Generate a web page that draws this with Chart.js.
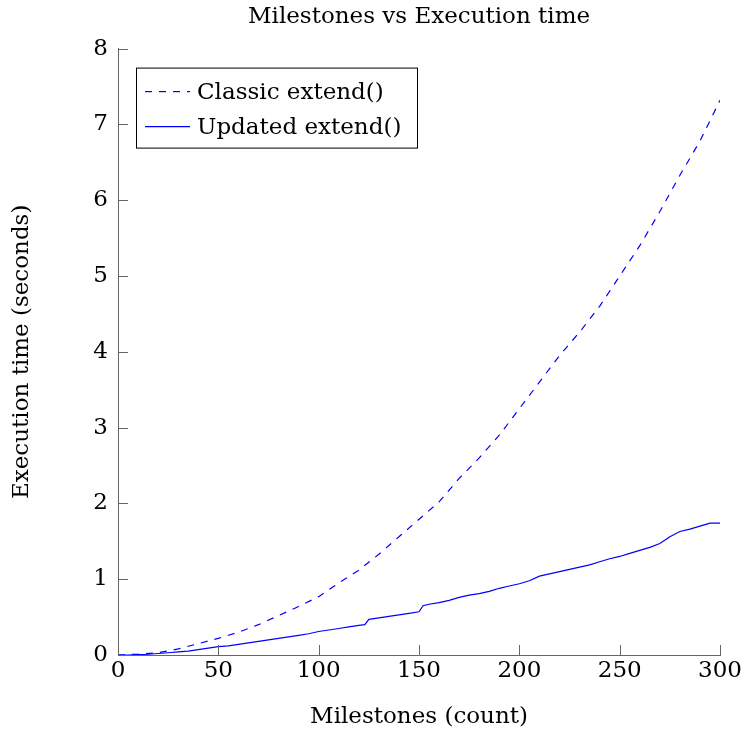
<!DOCTYPE html>
<html>
<head>
<meta charset="utf-8">
<script src="https://cdn.jsdelivr.net/npm/chart.js@4/dist/chart.umd.min.js"></script>
<style>
  html, body { margin: 0; padding: 0; background: #fff; }
  #wrap { width: 744px; height: 732px; }
</style>
</head>
<body>
<div id="wrap"><canvas id="chart" width="744" height="732"></canvas></div>
<script>
// Dados
const classicX = [0, 10, 20, 30, 40, 50, 60, 70, 80, 90, 100, 110, 120, 130, 140, 150,
  160, 170, 180, 190, 200, 210, 220, 230, 240, 250, 260, 270, 280, 290, 300];
const classicY = [0, 0.01, 0.03, 0.08, 0.15, 0.22, 0.30, 0.40, 0.52, 0.64, 0.77, 0.95, 1.12, 1.33, 1.56, 1.79,
  2.02, 2.33, 2.60, 2.90, 3.25, 3.60, 3.95, 4.26, 4.60, 5.00, 5.40, 5.85, 6.33, 6.78, 7.32];

const updatedX = [0, 5, 10, 15, 20, 25, 30, 35, 40, 45, 50, 55, 60, 65, 70, 75, 80, 85, 90, 95,
  100, 105, 110, 115, 120, 123, 125, 130, 135, 140, 145, 150, 152, 155, 160, 165, 170, 175, 180, 185, 190, 195,
  200, 205, 210, 215, 220, 225, 230, 235, 240, 245, 250, 255, 260, 265, 270, 275, 280, 285, 290, 295, 300];
const updatedY = [0, 0, 0.005, 0.01, 0.02, 0.03, 0.04, 0.05, 0.07, 0.09, 0.11, 0.12, 0.14, 0.16, 0.18, 0.20, 0.22, 0.24, 0.26, 0.28,
  0.31, 0.33, 0.35, 0.37, 0.39, 0.40, 0.47, 0.49, 0.51, 0.53, 0.55, 0.57, 0.65, 0.67, 0.69, 0.72, 0.76, 0.79, 0.81, 0.84, 0.88, 0.91,
  0.94, 0.98, 1.04, 1.07, 1.10, 1.13, 1.16, 1.19, 1.23, 1.27, 1.30, 1.34, 1.38, 1.42, 1.47, 1.56, 1.63, 1.66, 1.70, 1.74, 1.74];

const xTicks = [0, 50, 100, 150, 200, 250, 300];
const yTicks = [0, 1, 2, 3, 4, 5, 6, 7, 8];

const fontFamily = '"DejaVu Serif", serif';
const fontSize = 23;
const axisColor = '#666';

// Ticks para dentro, como no pgfplots
const innerTicks = {
  id: 'innerTicks',
  afterDraw(chart) {
    const ctx = chart.ctx;
    const x = chart.scales.x, y = chart.scales.y;
    const area = chart.chartArea;
    ctx.save();
    ctx.strokeStyle = axisColor;
    ctx.lineWidth = 1;
    ctx.beginPath();
    xTicks.forEach(v => {
      const px = Math.round(x.getPixelForValue(v)) + 0.5;
      ctx.moveTo(px, area.bottom);
      ctx.lineTo(px, area.bottom - 10);
    });
    yTicks.forEach(v => {
      const py = Math.round(y.getPixelForValue(v)) + 0.5;
      ctx.moveTo(area.left, py);
      ctx.lineTo(area.left + 10, py);
    });
    ctx.stroke();
    ctx.restore();
  }
};

// Legenda dentro da área do gráfico
const boxLegend = {
  id: 'boxLegend',
  afterDraw(chart) {
    const ctx = chart.ctx;
    const area = chart.chartArea;
    const left = area.left + 18, top = area.top + 19;
    const w = 281, h = 80;
    ctx.save();
    ctx.fillStyle = '#fff';
    ctx.fillRect(left, top, w, h);
    ctx.strokeStyle = '#000';
    ctx.lineWidth = 1;
    ctx.strokeRect(left + 0.5, top + 0.5, w, h);
    ctx.font = fontSize + 'px ' + fontFamily;
    ctx.textBaseline = 'middle';
    chart.data.datasets.forEach((ds, i) => {
      const cy = top + 24 + i * 35;
      ctx.strokeStyle = ds.borderColor;
      ctx.lineWidth = ds.borderWidth;
      ctx.setLineDash(ds.borderDash || []);
      ctx.beginPath();
      ctx.moveTo(left + 9, cy);
      ctx.lineTo(left + 54, cy);
      ctx.stroke();
      ctx.setLineDash([]);
      ctx.fillStyle = '#000';
      ctx.fillText(ds.label, left + 61, cy + 1);
    });
    ctx.restore();
  }
};

new Chart(document.getElementById('chart'), {
  type: 'line',
  data: {
    datasets: [
      {
        label: 'Classic extend()',
        data: classicX.map((x, i) => ({ x: x, y: classicY[i] })),
        borderColor: '#0000ff',
        borderWidth: 1.2,
        borderDash: [7, 7],
        pointRadius: 0,
        tension: 0
      },
      {
        label: 'Updated extend()',
        data: updatedX.map((x, i) => ({ x: x, y: updatedY[i] })),
        borderColor: '#0000ff',
        borderWidth: 1.2,
        pointRadius: 0,
        tension: 0
      }
    ]
  },
  options: {
    responsive: false,
    animation: false,
    layout: { padding: { left: 0, right: 23, top: 0, bottom: 0 } },
    plugins: {
      legend: { display: false },
      tooltip: { enabled: false },
      title: {
        display: true,
        fullSize: false,
        text: 'Milestones vs Execution time',
        color: '#000',
        font: { family: fontFamily, size: fontSize, weight: 'normal', lineHeight: 1.2 },
        padding: { top: 3, bottom: 18 }
      }
    },
    scales: {
      x: {
        type: 'linear',
        min: 0,
        max: 300,
        afterBuildTicks: s => { s.ticks = xTicks.map(v => ({ value: v })); },
        afterFit: s => { s.height = 77; },
        ticks: { color: '#000', font: { family: fontFamily, size: fontSize }, padding: 2 },
        grid: { drawOnChartArea: false, drawTicks: false },
        border: { color: axisColor, width: 1 },
        title: {
          display: true,
          text: 'Milestones (count)',
          color: '#000',
          font: { family: fontFamily, size: fontSize },
          padding: { top: 0, bottom: 1 }
        }
      },
      y: {
        type: 'linear',
        min: 0,
        max: 8,
        afterBuildTicks: s => { s.ticks = yTicks.map(v => ({ value: v })); },
        afterFit: s => { s.width = 118; },
        ticks: { color: '#000', font: { family: fontFamily, size: fontSize }, padding: 10 },
        grid: { drawOnChartArea: false, drawTicks: false },
        border: { color: axisColor, width: 1 },
        title: {
          display: true,
          text: 'Execution time (seconds)',
          color: '#000',
          font: { family: fontFamily, size: fontSize },
          padding: { top: 8, bottom: 0 }
        }
      }
    }
  },
  plugins: [innerTicks, boxLegend]
});
</script>
</body>
</html>
